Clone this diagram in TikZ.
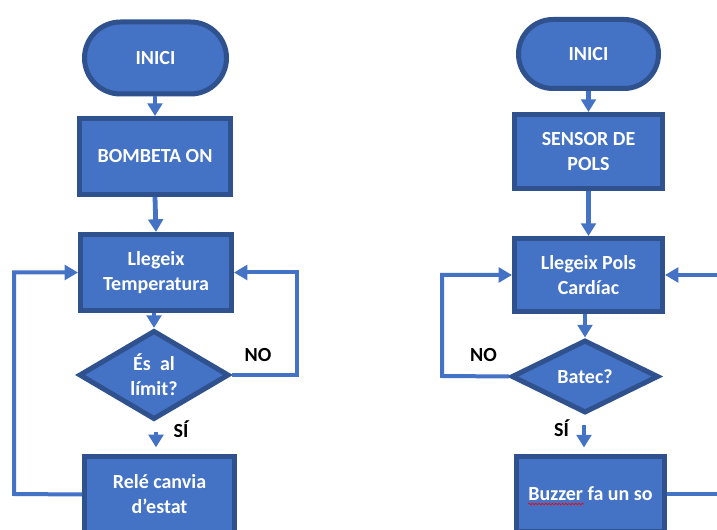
\documentclass[tikz,border=0pt]{standalone}
\usepackage{fontspec}
\setmainfont{Carlito}
\usetikzlibrary{arrows.meta,shapes.geometric,decorations.pathmorphing}
\definecolor{fillblue}{HTML}{4472C4}
\definecolor{edgeblue}{HTML}{2F528F}
\definecolor{arrowblue}{HTML}{4472C4}
\begin{document}
\begin{tikzpicture}[x=0.75pt,y=-0.75pt,
  base/.style={fill=fillblue, draw=edgeblue, line width=3.75pt, text=white,
    font=\fontsize{15}{18.75}\selectfont\bfseries, align=center, inner sep=0pt},
  boxnode/.style={base, rectangle},
  decnode/.style={base, diamond},
  arrshort/.style={draw=arrowblue, line width=3.6pt, -{Triangle[width=11pt,length=9.5pt]}},
  arrloop/.style={draw=arrowblue, line width=3pt, -{Triangle[width=11pt,length=10pt]}},
  plainline/.style={draw=arrowblue, line width=3pt},
  lab/.style={font=\fontsize{15}{18}\selectfont\bfseries, text=black, inner sep=0pt, anchor=base}
]
\useasboundingbox (0,0) rectangle (717,530);
\clip (0,0) rectangle (717,530);
\fill[white] (0,0) rectangle (717,530);

% ---------- left flowchart ----------
\node[boxnode, rounded corners=27pt, minimum width=106.5pt, minimum height=54pt] (i1) at (155.5,58) {INICI};
\node[boxnode, minimum width=113.25pt, minimum height=57pt] (b1) at (155,156.5) {BOMBETA ON};
\node[boxnode, minimum width=113.25pt, minimum height=57pt] (l1) at (156,272.5) {Llegeix\\Temperatura};
\node[decnode, minimum width=112.5pt, minimum height=55.5pt] (d1) at (154,375) {És~~al\\límit?};
\node[boxnode, minimum width=112.5pt, minimum height=57pt] (r1) at (159.5,494.5) {Relé canvia\\d’estat};

\draw[arrshort] (i1.south -| b1.north) -- (b1.north);
\draw[arrshort] (b1.south) -- (l1.north);
\draw[arrshort] (l1.south -| d1.north) -- (d1.north);
\draw[arrshort, shorten <=7.5pt, shorten >=5pt] (d1.south -| 156,0) -- (r1.north -| 156,0);

\coordinate (c1) at (297,375);
\draw[arrloop] (d1.east) -- (c1) |- (l1.east);
\coordinate (c2) at (14,494);
\draw[arrloop] (r1.west) -- (c2) |- (l1.west);

\node[lab] (no1) at (258,362) {NO};
\node[lab] (si1) at (181,438) {SÍ};

% ---------- right flowchart ----------
\node[boxnode, rounded corners=25.8pt, minimum width=105pt, minimum height=51.75pt] (i2) at (588.5,54) {INICI};
\node[boxnode, minimum width=111pt, minimum height=55.5pt] (s2) at (588.5,151.5) {SENSOR DE\\POLS};
\node[boxnode, minimum width=111pt, minimum height=54.75pt] (l2) at (588.5,275) {Llegeix Pols\\Cardíac};
\node[decnode, minimum width=110.25pt, minimum height=54.75pt] (d2) at (585,376.5) {Batec?};
\node[boxnode, minimum width=111pt, minimum height=56pt] (z2) at (590.5,494) {Buzzer fa un so};

\draw[arrshort] (i2.south) -- (s2.north);
\draw[arrshort] (s2.south) -- (l2.north);
\draw[arrshort] (l2.south -| d2.north) -- (d2.north);
\draw[arrshort, shorten <=7pt, shorten >=5pt] (d2.south -| 584,0) -- (z2.north -| 584,0);

\coordinate (c3) at (442,376);
\draw[arrloop] (d2.west) -- (c3) |- (l2.west);
\coordinate (c4) at (730,494);
\draw[plainline] (z2.east) -- (c4);
\coordinate (c5) at (730,275);
\draw[arrloop] (c5) -- (l2.east);

\node[lab] (no2) at (483.5,362) {NO};
\node[lab] (si2) at (561.5,436) {SÍ};

% spell-check squiggle under "Buzzer"
\draw[red, line width=0.5pt, decorate, decoration={snake, amplitude=0.6pt, segment length=2.5pt}] (528,504) -- (584,504);
\end{tikzpicture}
\end{document}
